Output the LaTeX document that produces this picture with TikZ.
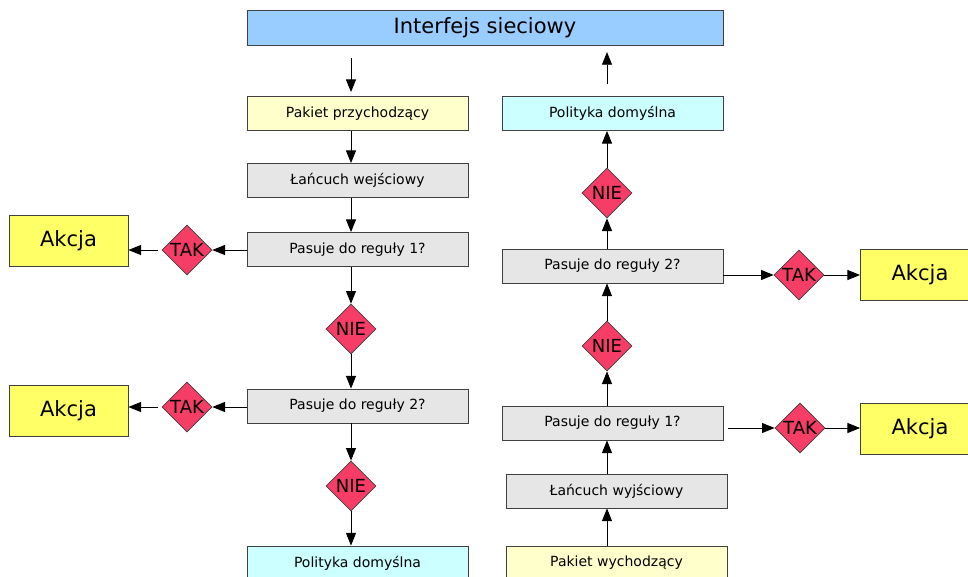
\documentclass[tikz,border=0pt]{standalone}
\usepackage{fontspec}
\setmainfont{DejaVu Sans}
\usetikzlibrary{shapes.geometric,arrows.meta}
\definecolor{barblue}{HTML}{99CCFF}
\definecolor{inyellow}{HTML}{FFFFCC}
\definecolor{polcyan}{HTML}{CCFFFF}
\definecolor{chaingray}{HTML}{E6E6E6}
\definecolor{actyellow}{HTML}{FFFF66}
\definecolor{diamred}{HTML}{F53D66}
\begin{document}
\begin{tikzpicture}[x=0.75pt,y=-0.75pt,
  box/.style={draw=black!75, line width=0.6pt, minimum width=165.75pt, minimum height=25.5pt, inner sep=0pt, font=\fontsize{10.5}{12}\selectfont},
  chain/.style={box, fill=chaingray},
  actbox/.style={draw=black!75, line width=0.6pt, fill=actyellow, minimum width=89.25pt, minimum height=38.25pt, inner sep=0pt, font=\fontsize{15.75}{18}\selectfont},
  diam/.style={diamond, draw=black!75, line width=0.5pt, fill=diamred, minimum width=37.5pt, minimum height=37.5pt, inner sep=0pt, font=\fontsize{13.5}{15}\selectfont},
  arr/.style={-{Triangle[length=9.5pt,width=7.5pt]}, line width=0.7pt, black}
]
\useasboundingbox (0,0) rectangle (968,576);
\clip (0,0) rectangle (968,576);

% top bar
\node[draw=black!75, line width=0.6pt, fill=barblue, minimum width=357pt, minimum height=26.25pt, inner sep=0pt, font=\fontsize{15.75}{18}\selectfont] (bar) at (485,27.5) {Interfejs sieciowy};

% left column
\node[box, fill=inyellow] (pin) at (357.5,113.5) {Pakiet przychodzący};
\node[chain] (lw) at (357.5,180.5) {Łańcuch wejściowy};
\node[chain] (l1) at (357.5,249.5) {Pasuje do reguły 1?};
\node[chain] (l2) at (357.5,406) {Pasuje do reguły 2?};
\node[box, fill=polcyan] (lpol) at (357.5,563) {Polityka domyślna};
\node[diam] (lt1) at (187,250) {\makebox[0pt]{TAK}};
\node[diam] (lt2) at (187,407) {\makebox[0pt]{TAK}};
\node[diam] (ln1) at (351,329) {\makebox[0pt]{NIE}};
\node[diam] (ln2) at (351,486) {\makebox[0pt]{NIE}};
\node[actbox] (la1) at (68.5,240.5) {Akcja};
\node[actbox] (la2) at (68.5,411) {Akcja};

% right column
\node[box, fill=polcyan] (rpol) at (612.5,113.5) {Polityka domyślna};
\node[diam] (rn2) at (607,193) {\makebox[0pt]{NIE}};
\node[chain] (r2) at (612.5,266) {Pasuje do reguły 2?};
\node[diam] (rn1) at (607,346) {\makebox[0pt]{NIE}};
\node[chain] (r1) at (612.5,423) {Pasuje do reguły 1?};
\node[chain] (rw) at (616.5,491) {Łańcuch wyjściowy};
\node[box, fill=inyellow] (rout) at (616.5,563) {Pakiet wychodzący};
\node[diam] (rt2) at (799,275) {\makebox[0pt]{TAK}};
\node[diam] (rt1) at (800,428) {\makebox[0pt]{TAK}};
\node[actbox] (ra2) at (920,275) {Akcja};
\node[actbox] (ra1) at (920,428.5) {Akcja};

% left connectors
\draw[arr, shorten <=9.75pt, shorten >=3pt] (bar.south -| ln1) -- (pin.north -| ln1);
\draw[arr] (pin.south -| ln1) -- (lw.north -| ln1);
\draw[arr] (lw.south -| ln1) -- (l1.north -| ln1);
\draw[arr] (l1.south -| ln1) -- (ln1.north);
\draw[arr] (ln1.south) -- (l2.north -| ln1);
\draw[arr] (l2.south -| ln2) -- (ln2.north);
\draw[arr] (ln2.south) -- (lpol.north -| ln2);
\draw[arr] (l1.west |- lt1) -- (lt1.east);
\draw[arr, shorten <=3pt] (lt1.west) -- (la1.east |- lt1);
\draw[arr] (l2.west |- lt2) -- (lt2.east);
\draw[arr, shorten <=3pt] (lt2.west) -- (la2.east |- lt2);

% right connectors
\draw[arr, shorten <=9pt, shorten >=5pt] (rpol.north -| rn2) -- (bar.south -| rn2);
\draw[arr] (rn2.north) -- (rpol.south -| rn2);
\draw[arr] (r2.north -| rn2) -- (rn2.south);
\draw[arr] (rn1.north) -- (r2.south -| rn1);
\draw[arr] (r1.north -| rn1) -- (rn1.south);
\draw[arr] (rw.north -| rn1) -- (r1.south -| rn1);
\draw[arr] (rout.north -| rn1) -- (rw.south -| rn1);
\draw[arr] (r2.east |- rt2) -- (rt2.west);
\draw[arr] (rt2.east) -- (ra2.west |- rt2);
\draw[arr, shorten <=3.75pt] (r1.east |- rt1) -- (rt1.west);
\draw[arr] (rt1.east) -- (ra1.west |- rt1);
\end{tikzpicture}
\end{document}
